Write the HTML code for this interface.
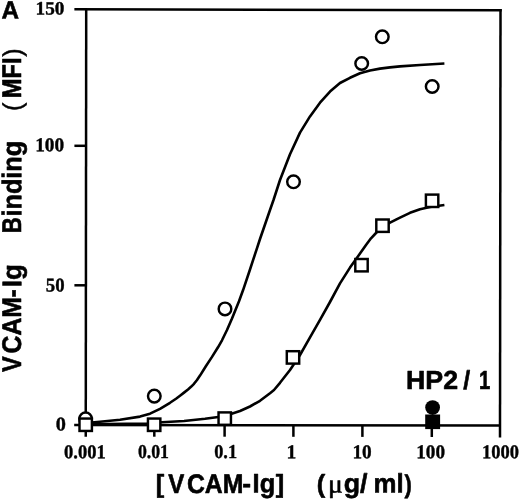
<!DOCTYPE html>
<html>
<head>
<meta charset="utf-8">
<title>VCAM-Ig Binding</title>
<style>
html,body{margin:0;padding:0;background:#fff;}
body{width:520px;height:500px;overflow:hidden;}
svg{display:block;}
</style>
</head>
<body>
<svg width="520" height="500" viewBox="0 0 520 500">
<rect x="0" y="0" width="520" height="500" fill="#ffffff"/>
<g stroke="#000" stroke-width="2.5" fill="none" stroke-linecap="butt">
<line x1="74.4" y1="9.35" x2="501.7" y2="10.25"/>
<line x1="86.2" y1="9.4" x2="85.75" y2="436.7"/>
<line x1="74.2" y1="425.0" x2="500.1" y2="425.5"/>
<line x1="500.5" y1="9.1" x2="500.0" y2="437.4"/>
<line x1="74.4" y1="145.8" x2="86" y2="145.8"/>
<line x1="74.4" y1="285.3" x2="86" y2="285.3"/>
<line x1="154.3" y1="425.1" x2="154.3" y2="436.7"/>
<line x1="224.6" y1="425.2" x2="224.6" y2="436.7"/>
<line x1="293.4" y1="425.3" x2="293.4" y2="436.8"/>
<line x1="362.4" y1="425.3" x2="362.4" y2="436.9"/>
<line x1="431.8" y1="425.4" x2="431.8" y2="437"/>
</g>
<g stroke="#000" stroke-width="2.6" fill="none" stroke-linejoin="round" stroke-linecap="butt">
<path d="M86,423.0 L100,421.8 L120,419.7 L140,416.6 L150,413.7 L160,408.8 L170,402.8 L176,398.7 L180,395.7 L184,392.6 L188,389.4 L191,386.8 L194,383.8 L197,380 L200,375.6 L206,366 L212,356.9 L218,347.3 L222,340.3 L227,330 L232,318.5 L239,301.2 L243,290.3 L250,269.5 L260,239 L270,210 L273.5,200 L280,180 L290,154.2 L300,132.6 L310,116.4 L320,102.7 L330,91.6 L340,83 L350,77.8 L360,73.3 L370,70.5 L380,68.6 L390,67.4 L400,66.4 L420,65 L444.4,63.5"/>
<path d="M86,424.3 L147,423.6 L162,422.3 L184,421 L205,418.8 L224,416.2 L240,411 L250,406.5 L260,400.8 L270,393.2 L274,390 L280,382.8 L290,370 L294,364 L300,355 L310,337.4 L320,319.8 L330,302 L340,283.4 L350,267.6 L360,253.6 L366,245 L371,238.3 L376,233 L383,226.8 L390,222.7 L395,220.1 L400,217.6 L410,212.8 L420,209.2 L430,207 L444.4,205"/>
</g>
<g stroke="#000" stroke-width="2.45" fill="#fff">
<circle cx="85.6" cy="418.8" r="6.3"/>
<circle cx="154.3" cy="396.1" r="6.3"/>
<circle cx="225" cy="308.9" r="6.3"/>
<circle cx="293.5" cy="181.8" r="6.3"/>
<circle cx="361.7" cy="63.5" r="6.3"/>
<circle cx="382.3" cy="36.8" r="6.3"/>
<circle cx="432.2" cy="86.5" r="6.3"/>
</g>
<g stroke="#000" stroke-width="2.45" fill="#fff">
<rect x="79.50" y="418.55" width="12.4" height="12.4"/>
<rect x="147.95" y="418.55" width="12.4" height="12.4"/>
<rect x="218.55" y="412.40" width="12.4" height="12.4"/>
<rect x="286.80" y="351.20" width="12.4" height="12.4"/>
<rect x="355.30" y="259.00" width="12.4" height="12.4"/>
<rect x="376.30" y="219.50" width="12.4" height="12.4"/>
<rect x="425.90" y="194.60" width="12.4" height="12.4"/>
</g>
<circle cx="432.6" cy="407.6" r="7.4" fill="#000"/>
<rect x="425.2" y="414.5" width="14.9" height="14.6" fill="#000"/>
<g opacity="0.999">
<text transform="translate(35.56,14.40) rotate(0.03) scale(1.0185,1.0)" style="font-family:'Liberation Serif',serif;font-weight:bold;font-size:18.9px;font-kerning:none;text-rendering:geometricPrecision" fill="#000" stroke="#000" stroke-width="0.4" stroke-linejoin="round">150</text>
<text transform="translate(35.15,151.20) rotate(0.03) scale(0.9858,1.0)" style="font-family:'Liberation Serif',serif;font-weight:bold;font-size:19.6px;font-kerning:none;text-rendering:geometricPrecision" fill="#000" stroke="#000" stroke-width="0.4" stroke-linejoin="round">100</text>
<text transform="translate(45.85,291.40) rotate(0.03) scale(0.9575,1.0)" style="font-family:'Liberation Serif',serif;font-weight:bold;font-size:19.6px;font-kerning:none;text-rendering:geometricPrecision" fill="#000" stroke="#000" stroke-width="0.4" stroke-linejoin="round">50</text>
<text transform="translate(55.83,430.60) rotate(0.03) scale(1.0353,1.0)" style="font-family:'Liberation Serif',serif;font-weight:bold;font-size:19.6px;font-kerning:none;text-rendering:geometricPrecision" fill="#000" stroke="#000" stroke-width="0.4" stroke-linejoin="round">0</text>
<text transform="translate(64.09,458.30) rotate(0.03) scale(0.9448,1.0)" style="font-family:'Liberation Serif',serif;font-weight:bold;font-size:19.6px;font-kerning:none;text-rendering:geometricPrecision" fill="#000" stroke="#000" stroke-width="0.4" stroke-linejoin="round">0.001</text>
<text transform="translate(137.92,458.30) rotate(0.03) scale(0.9066,1.0)" style="font-family:'Liberation Serif',serif;font-weight:bold;font-size:19.6px;font-kerning:none;text-rendering:geometricPrecision" fill="#000" stroke="#000" stroke-width="0.4" stroke-linejoin="round">0.01</text>
<text transform="translate(214.20,458.30) rotate(0.03) scale(0.9323,1.0)" style="font-family:'Liberation Serif',serif;font-weight:bold;font-size:19.6px;font-kerning:none;text-rendering:geometricPrecision" fill="#000" stroke="#000" stroke-width="0.4" stroke-linejoin="round">0.1</text>
<text transform="translate(286.45,458.30) rotate(0.03) scale(1.0000,1.0)" style="font-family:'Liberation Serif',serif;font-weight:bold;font-size:19.6px;font-kerning:none;text-rendering:geometricPrecision" fill="#000" stroke="#000" stroke-width="0.4" stroke-linejoin="round">1</text>
<text transform="translate(352.46,458.30) rotate(0.03) scale(0.9836,1.0)" style="font-family:'Liberation Serif',serif;font-weight:bold;font-size:19.6px;font-kerning:none;text-rendering:geometricPrecision" fill="#000" stroke="#000" stroke-width="0.4" stroke-linejoin="round">10</text>
<text transform="translate(416.26,458.30) rotate(0.03) scale(0.9784,1.0)" style="font-family:'Liberation Serif',serif;font-weight:bold;font-size:19.6px;font-kerning:none;text-rendering:geometricPrecision" fill="#000" stroke="#000" stroke-width="0.4" stroke-linejoin="round">100</text>
<text transform="translate(481.92,458.30) rotate(0.03) scale(0.9435,1.0)" style="font-family:'Liberation Serif',serif;font-weight:bold;font-size:19.6px;font-kerning:none;text-rendering:geometricPrecision" fill="#000" stroke="#000" stroke-width="0.4" stroke-linejoin="round">1000</text>
<text transform="translate(1.59,18.55) rotate(0.03) scale(0.9777,1.0)" style="font-family:'Liberation Sans',sans-serif;font-weight:bold;font-size:24.85px;font-kerning:none;text-rendering:geometricPrecision" fill="#000" stroke="#000" stroke-width="0.6" stroke-linejoin="round">A</text>
<text transform="translate(21.30,372.06) rotate(-89.97) scale(0.8721,1.0)" style="font-family:'Liberation Sans',sans-serif;font-weight:bold;font-size:27.03px;font-kerning:none;text-rendering:geometricPrecision" fill="#000" stroke="#000" stroke-width="0.6" stroke-linejoin="round">V</text>
<text transform="translate(21.30,353.52) rotate(-89.97) scale(0.9175,1.0)" style="font-family:'Liberation Sans',sans-serif;font-weight:bold;font-size:27.03px;font-kerning:none;text-rendering:geometricPrecision" fill="#000" stroke="#000" stroke-width="0.6" stroke-linejoin="round">CAM</text>
<text transform="translate(21.30,297.45) rotate(-89.97) scale(0.9034,1.0)" style="font-family:'Liberation Sans',sans-serif;font-weight:bold;font-size:27.03px;font-kerning:none;text-rendering:geometricPrecision" fill="#000" stroke="#000" stroke-width="0.6" stroke-linejoin="round">-</text>
<text transform="translate(21.30,287.24) rotate(-89.97) scale(0.9606,1.0)" style="font-family:'Liberation Sans',sans-serif;font-weight:bold;font-size:27.03px;font-kerning:none;text-rendering:geometricPrecision" fill="#000" stroke="#000" stroke-width="0.6" stroke-linejoin="round">Ig</text>
<text transform="translate(21.30,233.19) rotate(-89.97) scale(0.8250,1.0)" style="font-family:'Liberation Sans',sans-serif;font-weight:bold;font-size:27.03px;font-kerning:none;text-rendering:geometricPrecision" fill="#000" stroke="#000" stroke-width="0.6" stroke-linejoin="round">B</text>
<text transform="translate(21.30,216.46) rotate(-89.97) scale(0.9332,1.0)" style="font-family:'Liberation Sans',sans-serif;font-weight:bold;font-size:27.03px;font-kerning:none;text-rendering:geometricPrecision" fill="#000" stroke="#000" stroke-width="0.6" stroke-linejoin="round">inding</text>
<text transform="translate(21.30,111.12) rotate(-89.97) scale(0.9349,0.97)" style="font-family:'Liberation Sans',sans-serif;font-weight:normal;font-size:27.03px;font-kerning:none;text-rendering:geometricPrecision" fill="#000" stroke="#000" stroke-width="0.5" stroke-linejoin="round">(</text>
<text transform="translate(21.30,98.28) rotate(-89.97) scale(0.8760,1.0)" style="font-family:'Liberation Sans',sans-serif;font-weight:bold;font-size:27.03px;font-kerning:none;text-rendering:geometricPrecision" fill="#000" stroke="#000" stroke-width="0.6" stroke-linejoin="round">MFI</text>
<text transform="translate(21.30,56.70) rotate(-89.97) scale(0.9349,0.97)" style="font-family:'Liberation Sans',sans-serif;font-weight:normal;font-size:27.03px;font-kerning:none;text-rendering:geometricPrecision" fill="#000" stroke="#000" stroke-width="0.5" stroke-linejoin="round">)</text>
<text transform="translate(155.76,492.50) rotate(0.03) scale(0.9500,0.95)" style="font-family:'Liberation Sans',sans-serif;font-weight:bold;font-size:26.74px;font-kerning:none;text-rendering:geometricPrecision" fill="#000" stroke="#000" stroke-width="0.6" stroke-linejoin="round">[</text>
<text transform="translate(168.24,492.50) rotate(0.03) scale(0.8987,1.0)" style="font-family:'Liberation Sans',sans-serif;font-weight:bold;font-size:26.74px;font-kerning:none;text-rendering:geometricPrecision" fill="#000" stroke="#000" stroke-width="0.6" stroke-linejoin="round">V</text>
<text transform="translate(186.88,492.50) rotate(0.03) scale(0.9274,1.0)" style="font-family:'Liberation Sans',sans-serif;font-weight:bold;font-size:26.74px;font-kerning:none;text-rendering:geometricPrecision" fill="#000" stroke="#000" stroke-width="0.6" stroke-linejoin="round">CAM</text>
<text transform="translate(242.27,492.50) rotate(0.03) scale(0.9868,1.0)" style="font-family:'Liberation Sans',sans-serif;font-weight:bold;font-size:26.74px;font-kerning:none;text-rendering:geometricPrecision" fill="#000" stroke="#000" stroke-width="0.6" stroke-linejoin="round">-</text>
<text transform="translate(252.60,492.50) rotate(0.03) scale(0.9512,1.0)" style="font-family:'Liberation Sans',sans-serif;font-weight:bold;font-size:26.74px;font-kerning:none;text-rendering:geometricPrecision" fill="#000" stroke="#000" stroke-width="0.6" stroke-linejoin="round">Ig</text>
<text transform="translate(275.83,492.50) rotate(0.03) scale(0.9500,0.95)" style="font-family:'Liberation Sans',sans-serif;font-weight:bold;font-size:26.74px;font-kerning:none;text-rendering:geometricPrecision" fill="#000" stroke="#000" stroke-width="0.6" stroke-linejoin="round">]</text>
<text transform="translate(316.75,492.50) rotate(0.03) scale(0.9500,0.95)" style="font-family:'Liberation Sans',sans-serif;font-weight:bold;font-size:26.74px;font-kerning:none;text-rendering:geometricPrecision" fill="#000" stroke="#000" stroke-width="0.6" stroke-linejoin="round">(</text>
<text transform="translate(328.07,492.50) rotate(0.03) scale(1.0589,1.0)" style="font-family:'Liberation Serif',serif;font-weight:normal;font-size:26px;font-kerning:none;text-rendering:geometricPrecision" fill="#000" stroke="#000" stroke-width="0.6" stroke-linejoin="round">μ</text>
<text transform="translate(343.70,492.50) rotate(0.03) scale(0.9998,1.0)" style="font-family:'Liberation Sans',sans-serif;font-weight:bold;font-size:26.74px;font-kerning:none;text-rendering:geometricPrecision" fill="#000" stroke="#000" stroke-width="0.6" stroke-linejoin="round">g/</text>
<text transform="translate(373.60,492.50) rotate(0.03) scale(0.9655,1.0)" style="font-family:'Liberation Sans',sans-serif;font-weight:bold;font-size:26.74px;font-kerning:none;text-rendering:geometricPrecision" fill="#000" stroke="#000" stroke-width="0.6" stroke-linejoin="round">ml</text>
<text transform="translate(404.38,492.50) rotate(0.03) scale(0.8200,0.95)" style="font-family:'Liberation Sans',sans-serif;font-weight:bold;font-size:26.74px;font-kerning:none;text-rendering:geometricPrecision" fill="#000" stroke="#000" stroke-width="0.6" stroke-linejoin="round">)</text>
<text transform="translate(406.01,388.90) rotate(0.03) scale(1.0285,1.0)" style="font-family:'Liberation Sans',sans-serif;font-weight:bold;font-size:26.02px;font-kerning:none;text-rendering:geometricPrecision" fill="#000" stroke="#000" stroke-width="0.6" stroke-linejoin="round">HP2</text>
<text transform="translate(463.32,388.90) rotate(0.03) scale(0.9500,1.0)" style="font-family:'Liberation Sans',sans-serif;font-weight:bold;font-size:26.02px;font-kerning:none;text-rendering:geometricPrecision" fill="#000" stroke="#000" stroke-width="0.6" stroke-linejoin="round">/</text>
<text transform="translate(479.00,388.90) rotate(0.03) scale(0.7800,1.0)" style="font-family:'Liberation Sans',sans-serif;font-weight:bold;font-size:26.02px;font-kerning:none;text-rendering:geometricPrecision" fill="#000" stroke="#000" stroke-width="0.6" stroke-linejoin="round">1</text>
</g>
</svg>
</body>
</html>
